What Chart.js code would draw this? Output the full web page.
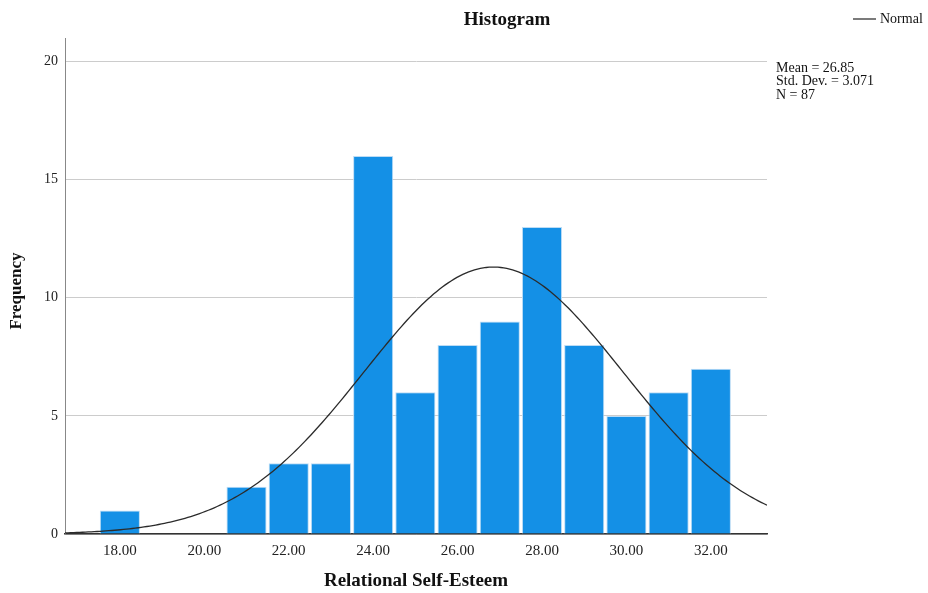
<!DOCTYPE html>
<html>
<head>
<meta charset="utf-8">
<script src="https://cdn.jsdelivr.net/npm/chart.js@4.4.1/dist/chart.umd.min.js"></script>
<style>
  html, body { margin: 0; padding: 0; background: #fff; }
  #wrap { width: 928px; height: 593px; position: relative; }
</style>
</head>
<body>
<div id="wrap"><canvas id="c" width="928" height="593"></canvas></div>
<script>
// Bin centres (width 1) and counts for Relational Self-Esteem
const binCenters = [18, 21, 22, 23, 24, 25, 26, 27, 28, 29, 30, 31, 32];
const frequencies = [1, 2, 3, 3, 16, 6, 8, 9, 13, 8, 5, 6, 7];
const xTickValues = [18, 20, 22, 24, 26, 28, 30, 32];
const yTickValues = [0, 5, 10, 15, 20];

// Summary statistics shown beside the plot
const mean = 26.85;
const stdDev = 3.071;
const n = 87;
const binWidth = 1;

const xMin = 16.70, xMax = 33.33;
const yMax = 21.0;

// Fitted normal curve scaled to counts
const curve = [];
for (let i = 0; i <= 240; i++) {
  const x = xMin + (xMax - xMin) * i / 240;
  const z = (x - mean) / stdDev;
  curve.push({ x, y: n * binWidth / (stdDev * Math.sqrt(2 * Math.PI)) * Math.exp(-0.5 * z * z) });
}

const serif = '"Liberation Serif", "DejaVu Serif", serif';

const textPlugin = {
  id: 'textPlugin',
  afterDraw(chart) {
    const ctx = chart.ctx;
    const area = chart.chartArea;
    ctx.save();
    ctx.fillStyle = '#111';
    ctx.textBaseline = 'middle';

    ctx.font = 'bold 19px ' + serif;
    ctx.textAlign = 'center';
    ctx.fillText('Histogram', 507, 20);

    ctx.font = 'bold 19px ' + serif;
    ctx.fillText('Relational Self-Esteem', (area.left + area.right) / 2, 581);

    ctx.save();
    ctx.translate(17, 291);
    ctx.rotate(-Math.PI / 2);
    ctx.font = 'bold 17px ' + serif;
    ctx.fillText('Frequency', 0, 0);
    ctx.restore();

    // Legend
    ctx.strokeStyle = '#333';
    ctx.lineWidth = 1.3;
    ctx.beginPath();
    ctx.moveTo(853, 19);
    ctx.lineTo(876, 19);
    ctx.stroke();
    ctx.font = '14px ' + serif;
    ctx.textAlign = 'left';
    ctx.fillText('Normal', 880, 19);

    // Statistics
    ctx.font = '14px ' + serif;
    ctx.fillText('Mean = ' + mean.toFixed(2), 776, 68);
    ctx.fillText('Std. Dev. = ' + stdDev.toFixed(3), 776, 81);
    ctx.fillText('N = ' + n, 776, 95);
    ctx.restore();
  }
};

new Chart(document.getElementById('c'), {
  type: 'bar',
  data: {
    datasets: [
      {
        type: 'line',
        label: 'Normal',
        data: curve,
        borderColor: '#2b2b2b',
        borderWidth: 1.3,
        pointRadius: 0,
        fill: false,
        tension: 0,
        order: 0
      },
      {
        type: 'bar',
        label: 'Frequency',
        data: binCenters.map((x, i) => ({ x, y: frequencies[i] })),
        backgroundColor: '#1490e6',
        borderColor: '#bcdcf5',
        borderWidth: 1,
        barPercentage: 0.95,
        categoryPercentage: 1,
        order: 1
      }
    ]
  },
  options: {
    responsive: false,
    animation: false,
    events: [],
    layout: { padding: { top: 38, right: 161, left: 0, bottom: 0 } },
    plugins: { legend: { display: false }, tooltip: { enabled: false }, title: { display: false } },
    scales: {
      x: {
        type: 'linear',
        min: xMin,
        max: xMax,
        offset: false,
        afterBuildTicks(scale) { scale.ticks = xTickValues.map(v => ({ value: v })); },
        afterFit(scale) { scale.height = 59; },
        grid: { display: false, drawTicks: false },
        border: { display: true, color: '#333', width: 1.5 },
        ticks: {
          padding: 8,
          color: '#222',
          font: { family: serif, size: 15 },
          maxRotation: 0,
          callback: v => Number(v).toFixed(2)
        }
      },
      y: {
        min: 0,
        max: yMax,
        afterBuildTicks(scale) { scale.ticks = yTickValues.map(v => ({ value: v })); },
        afterFit(scale) { scale.width = 65; },
        grid: { color: '#cccccc', lineWidth: 1, drawTicks: false },
        border: { display: true, color: '#888', width: 1 },
        ticks: {
          padding: 7,
          color: '#222',
          font: { family: serif, size: 14 },
          callback: v => String(v)
        }
      }
    }
  },
  plugins: [textPlugin]
});
</script>
</body>
</html>
